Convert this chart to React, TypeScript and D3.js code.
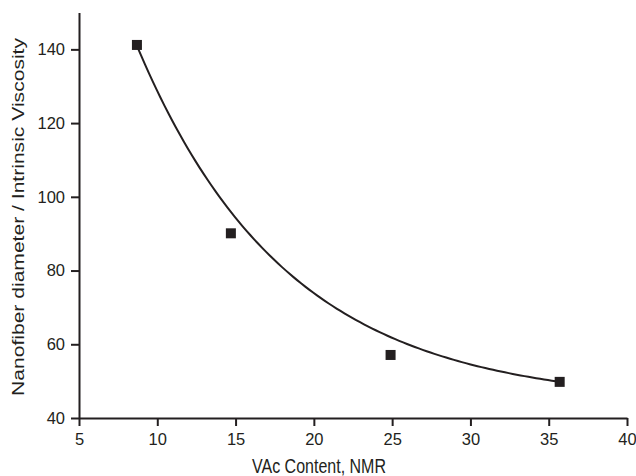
import React, { useEffect, useRef } from "react";
import * as d3 from "d3";

// measured points
const vacContent = [8.7, 14.7, 24.9, 35.7];
const fiberRatio = [141.2, 90.1, 57.1, 49.8];

// exponential decay fit: y = y0 + A * exp(-x / t)
const fitY0 = 44;
const fitA = 240;
const fitT = 9.6;

const xMajor = [5, 10, 15, 20, 25, 30, 35, 40];
const xMinor = [7.5, 12.5, 17.5, 22.5, 27.5, 32.5, 37.5];
const yMajor = [40, 60, 80, 100, 120, 140];
const yMinor = [50, 70, 90, 110, 130, 150];

const W = 636;
const H = 476;
const ink = "#231f20";

export default function App() {
  const ref = useRef<SVGSVGElement>(null);

  useEffect(() => {
    const svg = d3.select(ref.current);
    svg.selectAll("*").remove();

    const x = d3.scaleLinear().domain([5, 40]).range([79, 627]);
    const y = d3.scaleLinear().domain([40, 150]).range([418, 12.5]);

    const font = "'Liberation Sans', Arial, sans-serif";

    // x axis
    const gx = svg.append("g").attr("transform", `translate(0,${y(40)})`);
    gx.call(d3.axisBottom(x).tickValues(xMinor).tickSize(5).tickFormat(() => ""));
    gx.call(d3.axisBottom(x).tickValues(xMajor).tickSize(8).tickSizeOuter(0).tickPadding(7) as any);
    gx.selectAll("path.domain").attr("stroke", ink).attr("stroke-width", 2);
    gx.selectAll("line").attr("stroke", ink).attr("stroke-width", 2);
    gx.selectAll("text")
      .attr("fill", ink)
      .attr("font-family", font)
      .attr("font-size", 16.5);

    // y axis
    const gy = svg.append("g").attr("transform", `translate(${x(5)},0)`);
    gy.call(d3.axisLeft(y).tickValues(yMinor).tickSize(5).tickFormat(() => ""));
    gy.call(d3.axisLeft(y).tickValues(yMajor).tickSize(8).tickSizeOuter(0).tickPadding(6) as any);
    gy.selectAll("path.domain").attr("stroke", ink).attr("stroke-width", 2);
    gy.selectAll("line").attr("stroke", ink).attr("stroke-width", 2);
    gy.selectAll("text")
      .attr("fill", ink)
      .attr("font-family", font)
      .attr("font-size", 16.5);

    // fitted curve
    const xs = d3.range(vacContent[0], vacContent[3] + 0.01, 0.25);
    const line = d3
      .line<number>()
      .x((d) => x(d))
      .y((d) => y(fitY0 + fitA * Math.exp(-d / fitT)));
    svg
      .append("path")
      .attr("d", line(xs))
      .attr("fill", "none")
      .attr("stroke", ink)
      .attr("stroke-width", 2);

    // points
    const s = 10;
    svg
      .selectAll("rect.pt")
      .data(vacContent)
      .enter()
      .append("rect")
      .attr("class", "pt")
      .attr("x", (d) => x(d) - s / 2)
      .attr("y", (d, i) => y(fiberRatio[i]) - s / 2)
      .attr("width", s)
      .attr("height", s)
      .attr("fill", ink);

    // titles
    svg
      .append("text")
      .attr("transform", "translate(319,473) scale(1,1.25)")
      .attr("text-anchor", "middle")
      .attr("font-family", font)
      .attr("font-size", 16)
      .attr("fill", ink)
      .attr("textLength", 134)
      .attr("lengthAdjust", "spacingAndGlyphs")
      .text("VAc Content, NMR");

    svg
      .append("text")
      .attr("transform", `translate(24,217) rotate(-90)`)
      .attr("text-anchor", "middle")
      .attr("font-family", font)
      .attr("font-size", 16.5)
      .attr("fill", ink)
      .attr("textLength", 358)
      .attr("lengthAdjust", "spacingAndGlyphs")
      .text("Nanofiber diameter / Intrinsic Viscosity");
  }, []);

  return (
    <svg
      ref={ref}
      width={W}
      height={H}
      style={{ position: "absolute", left: 0, top: 0, background: "#fff" }}
    />
  );
}
